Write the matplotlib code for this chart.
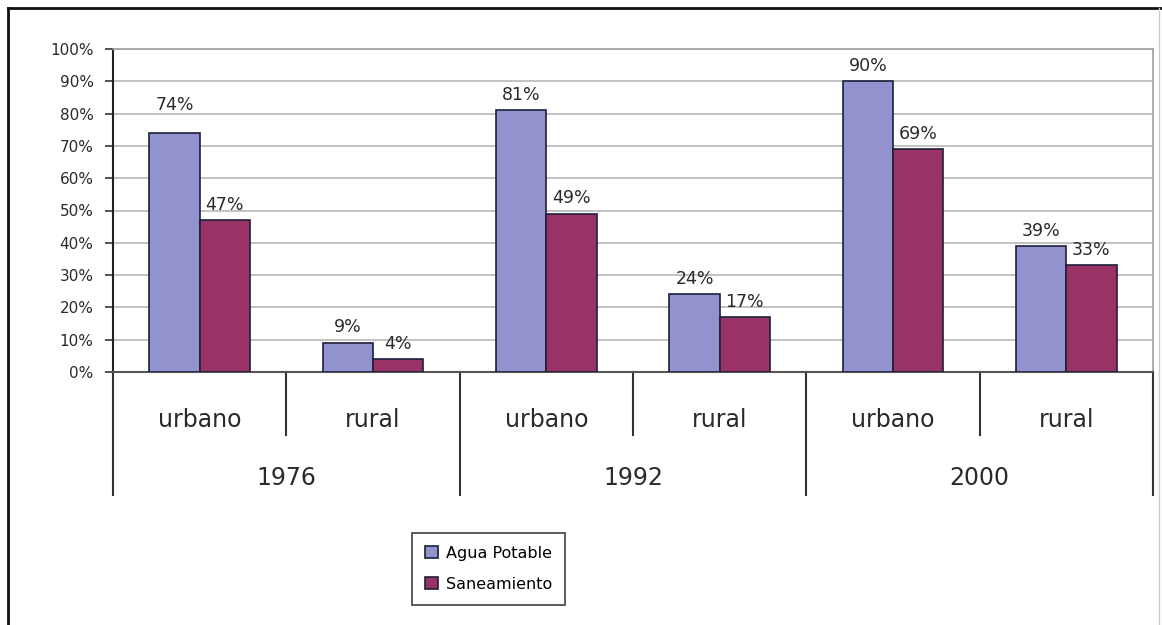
import numpy as np
import matplotlib.pyplot as plt

plt.rcParams['font.family'] = ['DejaVu Sans']

# Data
years = ["1976", "1992", "2000"]
zones = ["urbano", "rural"]
agua = [74, 9, 81, 24, 90, 39]
saneamiento = [47, 4, 49, 17, 69, 33]
yticks = [0, 10, 20, 30, 40, 50, 60, 70, 80, 90, 100]

blue = "#9292cf"
red = "#993366"
edge = "#1e1e3c"
txt = "#2a2a2a"

fig = plt.figure(figsize=(11.62, 6.25), dpi=100)
ax = fig.add_axes([113 / 1162, 1 - 372 / 625, 1040 / 1162, 323 / 625])

x = np.arange(len(agua))
w = 0.29
b1 = ax.bar(x - w / 2, agua, w, color=blue, edgecolor=edge, linewidth=1.2,
            label="Agua Potable", zorder=3)
b2 = ax.bar(x + w / 2, saneamiento, w, color=red, edgecolor=edge, linewidth=1.2,
            label="Saneamiento", zorder=3)

for bars, vals in [(b1, agua), (b2, saneamiento)]:
    for rect, v in zip(bars, vals):
        off = 6.0 if v == 74 else 2.0
        ax.text(rect.get_x() + rect.get_width() / 2, v + off, f"{v}%",
                ha="center", va="bottom", fontsize=12.5, color=txt)

ax.set_xlim(-0.5, len(agua) - 0.5)
ax.set_ylim(0, 100)
ax.set_yticks(yticks)
ax.set_yticklabels([f"{t}%" for t in yticks], fontsize=11, color=txt)
ax.yaxis.grid(True, color="#b8b8b8", linewidth=1.2, zorder=0)
ax.tick_params(axis="y", length=6, width=1.2, color="#333333", pad=8)
ax.set_xticks([])

for s in ["top", "right"]:
    ax.spines[s].set_color("#a0a0a0")
    ax.spines[s].set_linewidth(1.2)
ax.spines["left"].set_color("#222222")
ax.spines["left"].set_linewidth(1.5)
ax.spines["bottom"].set_color("#555555")
ax.spines["bottom"].set_linewidth(1.5)

# two-level category axis
trans = ax.get_xaxis_transform()
short_y = -63 / 323
long_y = -123 / 323
for i in range(len(agua) + 1):
    pos = i - 0.5
    y_end = long_y if i % 2 == 0 else short_y
    ax.plot([pos, pos], [0, y_end], color="#333333", lw=1.5,
            transform=trans, clip_on=False)

for i in range(len(agua)):
    ax.text(i, -48 / 323, zones[i % 2], transform=trans, ha="center",
            va="center", fontsize=17, color=txt)
for j, yr in enumerate(years):
    ax.text(2 * j + 0.5, -106 / 323, yr, transform=trans, ha="center",
            va="center", fontsize=17, color=txt)

# legend
leg = fig.legend(handles=[b1, b2], loc="upper left",
                 bbox_to_anchor=(412 / 1162, 1 - 533 / 625),
                 frameon=True, fancybox=False, fontsize=11.5,
                 handlelength=0.8, handleheight=0.8, labelspacing=1.0,
                 borderpad=0.8, handletextpad=0.5, borderaxespad=0)
leg.get_frame().set_edgecolor("#222222")
leg.get_frame().set_linewidth(1.3)

# outer frame
fig.add_artist(plt.Line2D([8 / 1162, 8 / 1162], [0, 1 - 8 / 625],
                          color="#111111", lw=2, transform=fig.transFigure))
fig.add_artist(plt.Line2D([8 / 1162, 1], [1 - 8 / 625, 1 - 8 / 625],
                          color="#111111", lw=2, transform=fig.transFigure))
fig.add_artist(plt.Line2D([1159 / 1162, 1159 / 1162], [0, 1 - 8 / 625],
                          color="#cccccc", lw=1, transform=fig.transFigure))

fig.savefig("out.png", dpi=100)
